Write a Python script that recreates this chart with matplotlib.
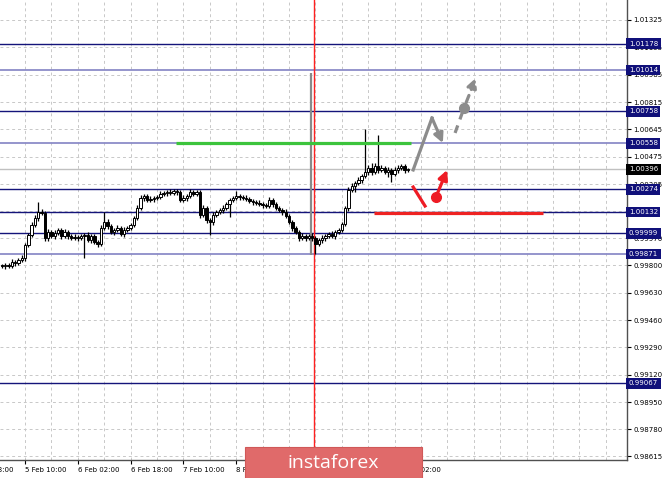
import numpy as np
import matplotlib
matplotlib.use("Agg")
import matplotlib.pyplot as plt
from matplotlib.patches import Rectangle
from matplotlib.transforms import blended_transform_factory

# cierres por barra (H1)
closes = [0.99796, 0.99802, 0.99796, 0.99821, 0.99815, 0.99833, 0.99846, 0.99927, 0.99989, 1.00051,
          1.00094, 1.00132, 1.00126, 0.99970, 1.00008, 0.99983, 1.00001, 1.00020, 0.99983, 1.00008,
          0.99983, 0.99970, 0.99976, 0.99970, 0.99983, 0.99989, 0.99958, 0.99983, 0.99945, 0.99933,
          1.00032, 1.00070, 1.00045, 1.00008, 1.00020, 1.00032, 0.99995, 1.00020, 1.00032, 1.00051,
          1.00094, 1.00157, 1.00219, 1.00231, 1.00206, 1.00213, 1.00219, 1.00225, 1.00244, 1.00250,
          1.00256, 1.00250, 1.00262, 1.00256, 1.00206, 1.00219, 1.00231, 1.00256, 1.00244, 1.00256,
          1.00113, 1.00157, 1.00082, 1.00070, 1.00113, 1.00132, 1.00144, 1.00157, 1.00182, 1.00206,
          1.00219, 1.00231, 1.00225, 1.00219, 1.00213, 1.00200, 1.00194, 1.00188, 1.00182, 1.00175,
          1.00169, 1.00206, 1.00182, 1.00157, 1.00144, 1.00132, 1.00107, 1.00070, 1.00032, 1.00008,
          0.99970, 0.99983, 0.99970, 0.99983, 0.99970, 0.99933, 0.99958, 0.99970, 0.99983, 0.99995,
          0.99983, 1.00008, 1.00020, 1.00057, 1.00157, 1.00268, 1.00294, 1.00312, 1.00331, 1.00355,
          1.00380, 1.00405, 1.00380, 1.00418, 1.00393, 1.00405, 1.00380, 1.00393, 1.00368, 1.00393,
          1.00405, 1.00418, 1.00393, 1.00396]
first_open = 0.99800

# mechas en pips
up_wick = [1, 1, 1, 2, 1, 1, 2, 1, 1, 2,
           2, 6, 2, 1, 2, 1, 2, 1, 1, 2,
           1, 1, 2, 1, 1, 1, 2, 1, 1, 1,
           2, 6, 2, 1, 1, 2, 1, 2, 1, 1,
           1, 2, 2, 1, 1, 2, 1, 1, 2, 1,
           1, 2, 1, 1, 1, 2, 1, 2, 1, 1,
           1, 2, 1, 1, 2, 1, 1, 2, 1, 1,
           1, 3, 1, 1, 2, 1, 1, 1, 2, 1,
           1, 2, 1, 1, 1, 1, 2, 1, 1, 1,
           1, 2, 1, 1, 2, 1, 1, 2, 1, 1,
           2, 1, 1, 1, 1, 2, 2, 1, 2, 1,
           27, 2, 3, 2, 19, 2, 1, 2, 1, 2,
           2, 1, 1, 1]
dn_wick = [1, 2, 1, 1, 2, 1, 1, 2, 1, 1,
           1, 2, 1, 2, 2, 1, 2, 1, 2, 1,
           2, 1, 1, 2, 1, 14, 1, 2, 1, 2,
           1, 1, 2, 1, 2, 1, 1, 2, 1, 1,
           1, 1, 1, 2, 1, 1, 2, 1, 1, 1,
           2, 1, 1, 2, 1, 1, 2, 1, 1, 1,
           2, 1, 2, 8, 2, 1, 1, 2, 1, 8,
           1, 1, 2, 1, 1, 1, 2, 1, 1, 2,
           1, 1, 2, 1, 1, 2, 1, 1, 2, 1,
           2, 1, 2, 1, 2, 6, 1, 2, 2, 1,
           1, 2, 1, 1, 1, 2, 1, 4, 1, 2,
           1, 2, 2, 1, 2, 1, 1, 3, 5, 1,
           2, 1, 2, 1]

# niveles horizontales
levels_dark = [1.01178, 1.00758, 1.00274, 1.00132, 0.99999, 0.99067]
levels_light = [1.01014, 1.00558, 0.99871]
current_price = 1.00396

y_ticks = [1.01325, 1.01155, 1.00985, 1.00815, 1.00645, 1.00475, 1.00305, 1.00135,
           0.99970, 0.99800, 0.99630, 0.99460, 0.99290, 0.99120, 0.98950, 0.98780, 0.98615]
y_hidden = [1.00135]  # tapado por la etiqueta 1.00132
x_tick_bars = [7, 23, 39, 55, 71, 87, 103, 119]
x_tick_labels = ['5 Feb 10:00', '6 Feb 02:00', '6 Feb 18:00', '7 Feb 10:00',
                 '8 Feb 02:00', '', '', '12 Feb 02:00']  # las vacias quedan bajo el logo
first_label = '4 Feb 18:00'
first_label_bar = -9

# objetos dibujados
gray_vline_bar = 93.6
gray_vline_range = [0.99864, 1.00996]
red_vline_bar = 94.6
green_bars = [52.7, 124.0]
green_level = 1.00558
red_bars = [112.7, 164.0]
red_level = 1.00128
gray_path_x = [124.6, 130.3, 133.6]
gray_path_y = [1.00393, 1.00716, 1.00560]
gray_dash_x = [137.3, 140.0, 143.6]
gray_dash_y = [1.00623, 1.00778, 1.00965]
red_seg_x = [124.6, 128.2]
red_seg_y = [1.00287, 1.00169]
red_arrow_x = [131.5, 134.9]
red_arrow_y = [1.00225, 1.00393]

opens = [first_open] + closes[:-1]
n = len(closes)
x = np.arange(n)
highs = [max(o, c) + w * 0.0001 for o, c, w in zip(opens, closes, up_wick)]
lows = [min(o, c) - w * 0.0001 for o, c, w in zip(opens, closes, dn_wick)]

fig = plt.figure(figsize=(6.65, 4.78), dpi=100)
ax = fig.add_axes([0, 18 / 478, 627 / 665, 460 / 478])

ax.set_xlim(-0.6, 189.4)
ax.set_ylim(0.985904, 1.014493)

# rejilla
for gx in np.arange(-1, 190, 8):
    ax.axvline(gx, color='#c8c8c8', lw=0.7, ls=(0, (3, 3)), zorder=0)
for gy in y_ticks:
    ax.axhline(gy, color='#c8c8c8', lw=0.7, ls=(0, (3, 3)), zorder=0)

# niveles
for lv in levels_dark:
    ax.axhline(lv, color='#14147a', lw=1.0, zorder=1)
for lv in levels_light:
    ax.axhline(lv, color='#8c8cc8', lw=1.3, zorder=1)
ax.axhline(current_price, color='#c0c0c0', lw=1.0, zorder=1)

# velas
ax.vlines(x, lows, highs, color='black', lw=0.9, zorder=3)
colors = ['white' if c >= o else 'black' for o, c in zip(opens, closes)]
heights = [c - o if abs(c - o) > 0.00003 else 0.00003 for o, c in zip(opens, closes)]
ax.bar(x, heights, bottom=opens, width=0.72, color=colors, edgecolor='black', lw=0.7, zorder=4)

# lineas verticales
ax.vlines(gray_vline_bar, gray_vline_range[0], gray_vline_range[1], color='#8a8a8a', lw=1.6, zorder=2)
ax.axvline(red_vline_bar, color='#ff2020', lw=1.0, zorder=2)

# lineas de soporte / resistencia
ax.plot(green_bars, [green_level, green_level], color='#3cc43c', lw=2.3, zorder=5,
        solid_capstyle='butt')
ax.plot(red_bars, [red_level, red_level], color='#ee2222', lw=2.3, zorder=5,
        solid_capstyle='butt')

# flechas de pronostico
ax.plot(gray_path_x[:2], gray_path_y[:2], color='#8c8c8c', lw=2.3, zorder=6)
ax.annotate('', xy=(gray_path_x[2], gray_path_y[2]), xytext=(gray_path_x[1], gray_path_y[1]),
            arrowprops=dict(arrowstyle='-|>', color='#8c8c8c', lw=2.3, mutation_scale=14,
                            shrinkA=0, shrinkB=0), zorder=6)
ax.plot(gray_dash_x[:2], gray_dash_y[:2], color='#8c8c8c', lw=2.3, ls=(0, (2.5, 2)), zorder=6)
ax.plot(gray_dash_x[1], gray_dash_y[1], 'o', color='#8c8c8c', ms=7, zorder=6)
ax.annotate('', xy=(gray_dash_x[2], gray_dash_y[2]), xytext=(gray_dash_x[1], gray_dash_y[1]),
            arrowprops=dict(arrowstyle='-|>', color='#8c8c8c', lw=2.3, mutation_scale=14,
                            shrinkA=4, shrinkB=0, linestyle=(0, (2.5, 2))), zorder=6)
ax.plot(red_seg_x, red_seg_y, color='#ee1c25', lw=2.3, zorder=6)
ax.plot(red_arrow_x[0], red_arrow_y[0], 'o', color='#ee1c25', ms=7, zorder=6)
ax.annotate('', xy=(red_arrow_x[1], red_arrow_y[1]), xytext=(red_arrow_x[0], red_arrow_y[0]),
            arrowprops=dict(arrowstyle='-|>', color='#ee1c25', lw=2.3, mutation_scale=14,
                            shrinkA=0, shrinkB=0), zorder=6)

# ejes
for s in ['left', 'top']:
    ax.spines[s].set_visible(False)
for s in ['right', 'bottom']:
    ax.spines[s].set_color('#505050')
    ax.spines[s].set_linewidth(1.0)
ax.yaxis.tick_right()
ax.set_yticks(y_ticks)
ax.set_yticklabels(['' if v in y_hidden else f'{v:.5f}' for v in y_ticks])
ax.set_xticks(x_tick_bars)
ax.set_xticklabels(x_tick_labels, ha='left')
ax.tick_params(axis='both', which='major', labelsize=5, length=3, width=0.8, pad=1.5)
ax.tick_params(axis='x', pad=2)

trans = blended_transform_factory(ax.transData, ax.transAxes)
ax.annotate(first_label, xy=(first_label_bar, 0), xycoords=trans, xytext=(0, -5.3),
            textcoords='offset points', ha='left', va='top', fontsize=5, annotation_clip=False)

# etiquetas de precio
ltrans = blended_transform_factory(ax.transAxes, ax.transData)
for lv in levels_dark + levels_light:
    ax.text(1.003, lv, f'{lv:.5f}', transform=ltrans, fontsize=5, color='white',
            ha='left', va='center', zorder=10, clip_on=False,
            bbox=dict(boxstyle='square,pad=0.35', fc='#10107a', ec='none'))
ax.text(1.003, current_price, f'{current_price:.5f}', transform=ltrans, fontsize=5, color='white',
        ha='left', va='center', zorder=10, clip_on=False,
        bbox=dict(boxstyle='square,pad=0.35', fc='black', ec='none'))

# marca de agua
box = Rectangle((245 / 665, 0), 177 / 665, 31 / 478, transform=fig.transFigure,
                facecolor='#e06a6a', edgecolor='#d05858', lw=0.8, zorder=20)
fig.add_artist(box)
fig.text(333.5 / 665, 15.5 / 478, 'instaforex', color='white', fontsize=14, family='Open Sans',
         ha='center', va='center', zorder=21)

fig.savefig('out.png', dpi=100)
